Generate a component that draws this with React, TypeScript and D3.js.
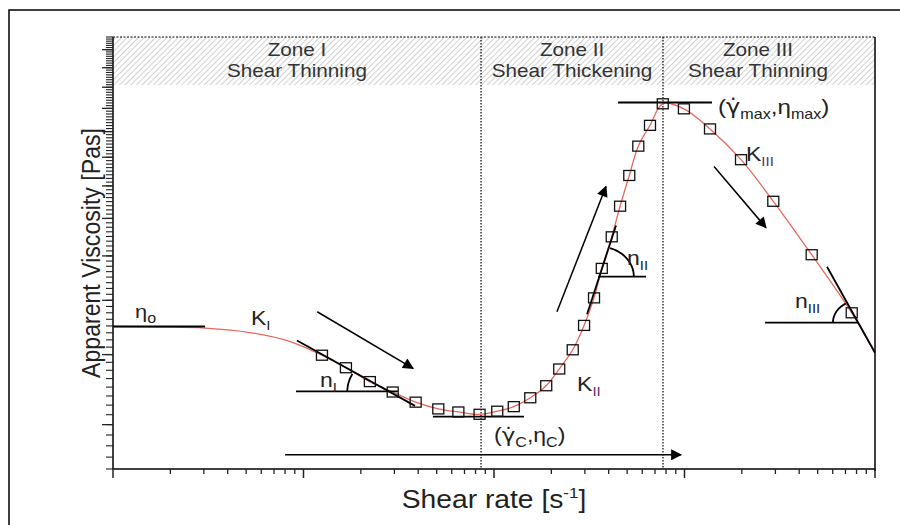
import React from 'react';
import * as d3 from 'd3';

const W = 900, H = 525;

// measured points: shear rate [1/s], apparent viscosity [Pa s]
const shearRate = [12.5, 16.7, 22.3, 29.4, 38.8, 51, 65, 84, 104, 127, 155, 188, 220, 259, 297, 335, 368, 415, 459, 513, 572, 659, 769, 993, 1361, 1980, 2925, 4653, 7548];
const viscosity = [3.99, 3.79, 3.58, 3.43, 3.29, 3.2, 3.16, 3.13, 3.17, 3.23, 3.35, 3.52, 3.77, 4.08, 4.51, 5.05, 5.7, 6.49, 7.36, 8.35, 9.42, 10.26, 11.21, 10.98, 10.11, 8.91, 7.51, 6.03, 4.75];

// model curve ends (plateau on the left, tail on the right)
const fitLeadRate = [1, 1.77, 3.04, 5.23, 8.5];
const fitLeadVisc = [4.49, 4.48, 4.46, 4.38, 4.22];
const fitTailRate = [10000];
const fitTailVisc = [4.03];

// zones
const zoneBounds = [85.5, 771];
const zoneCenters = [9.24, 257, 2431];
const zoneTitles = ['Zone I', 'Zone II', 'Zone III'];
const zoneKinds = ['Shear Thinning', 'Shear Thickening', 'Shear Thinning'];

// ticks
const yMajor = [3, 4, 5, 6, 7, 8, 9, 10, 11, 12, 13, 14];
const yMinor = d3.range(2.5, 14.76, 0.125);
const xMajor = [1, 10, 100, 1000, 10000];
const xMinor = [1, 10, 100, 1000].flatMap(d => [2, 3, 4, 5, 6, 7, 8, 9].map(k => k * d));

// annotation geometry, data units [rate, viscosity]
const eta0Line = [[1, 4.49], [3.04, 4.49]];
const tangentI = [[9.24, 4.24], [38.5, 3.24]];
const levelI = [[9.13, 3.44], [31.3, 3.44]];
const arrowI = [[11.8, 4.77], [37.6, 3.78]];
const minLine = [[47.8, 3.1], [143.7, 3.1]];
const arrowII = [[214, 4.77], [387, 7.98]];
const tangentII = [[308, 4.72], [437, 6.8]];
const levelII = [[352, 5.51], [628, 5.51]];
const peakLine = [[448, 11.27], [1394, 11.27]];
const arrowIII = [[1429, 8.66], [2678, 6.74]];
const tangentIII = [[5598, 5.74], [10000, 4.03]];
const levelIII = [[2647, 4.56], [8142, 4.56]];
const rateArrow = [[8, 2.65], [959, 2.65]];

const x = d3.scaleLog().domain([1, 10000]).range([113, 875]);
const y = d3.scaleLog().domain([2.5, 14.75]).range([469, 37]);

const FONT = 'Liberation Sans, Arial, sans-serif';
const SX = 1.15;

function Txt({ at, size, children, anchor = 'start', fill = '#222', dx = 0, dy = 0 }: any) {
  const px = x(at[0]) + dx, py = y(at[1]) + dy;
  return (
    <text transform={`translate(${px},${py}) scale(${SX},1)`} fontSize={size} fontFamily={FONT}
      textAnchor={anchor} fill={fill}>{children}</text>
  );
}

function Seg({ pts, arrow = false, w = 1.8 }: any) {
  return (
    <line x1={x(pts[0][0])} y1={y(pts[0][1])} x2={x(pts[1][0])} y2={y(pts[1][1])}
      stroke="#000" strokeWidth={w} markerEnd={arrow ? 'url(#head)' : undefined} />
  );
}

function angleArc(tangent: number[][], level: number[][], r: number) {
  const t0 = [x(tangent[0][0]), y(tangent[0][1])];
  const t1 = [x(tangent[1][0]), y(tangent[1][1])];
  const h = y(level[0][1]);
  const t = (h - t0[1]) / (t1[1] - t0[1]);
  const cx = t0[0] + t * (t1[0] - t0[0]);
  const up = t0[1] < t1[1] ? t0 : t1;
  const lx0 = x(level[0][0]), lx1 = x(level[1][0]);
  const far = Math.abs(lx0 - cx) > Math.abs(lx1 - cx) ? lx0 : lx1;
  const a0 = far < cx ? Math.PI : 0;
  const a1 = Math.atan2(up[1] - h, up[0] - cx);
  let d = a1 - a0;
  while (d > Math.PI) d -= 2 * Math.PI;
  while (d < -Math.PI) d += 2 * Math.PI;
  const pts = d3.range(0, 1.0001, 0.05).map(s => {
    const a = a0 + s * d;
    return [cx + r * SX * Math.cos(a), h + r * Math.sin(a)] as [number, number];
  });
  return d3.line()(pts) || '';
}

export default function App() {
  const points = shearRate.map((r, i) => [r, viscosity[i]]);
  const fit = [
    ...fitLeadRate.map((r, i) => [r, fitLeadVisc[i]]),
    ...points,
    ...fitTailRate.map((r, i) => [r, fitTailVisc[i]]),
  ];
  const curve = d3.line<number[]>()
    .x(d => x(d[0]))
    .y(d => y(d[1]))
    .curve(d3.curveCatmullRom.alpha(0.5))(fit) || '';

  const [x0, x1] = x.range();
  const [yb, yt] = y.range();
  const bandBottom = 85;
  const sub = (s: string, size = 13) => <tspan dy={5} fontSize={size}>{s}</tspan>;
  const gdot = <tspan fontFamily="DejaVu Sans">{'\u03B3\u0307'}</tspan>;

  return (
    <svg width={W} height={H} style={{ position: 'absolute', left: 0, top: 0, background: '#fff' }}>
      <defs>
        <pattern id="hatch" width="4" height="4" patternUnits="userSpaceOnUse" patternTransform="rotate(45)">
          <line x1="0" y1="0" x2="0" y2="4" stroke="#b8b8b8" strokeWidth="1.3" />
        </pattern>
        <marker id="head" viewBox="0 0 10 10" refX="9" refY="5" markerWidth="16" markerHeight="11"
          markerUnits="userSpaceOnUse" orient="auto">
          <path d="M0,0 L10,5 L0,10 z" fill="#000" />
        </marker>
      </defs>

      <rect x={9} y={10} width={W} height={H} fill="none" stroke="#000" strokeWidth={1.5} />

      {/* hatched zone band */}
      <rect x={x0} y={yt} width={x1 - x0} height={bandBottom - yt} fill="url(#hatch)" />
      <line x1={x0} x2={x1} y1={yt} y2={yt} stroke="#000" strokeWidth={1.2} strokeDasharray="2,1.5" />

      {zoneTitles.map((z, i) => (
        <text key={z} transform={`translate(${x(zoneCenters[i])},${56}) scale(${SX},1)`} fontSize={18}
          fontFamily={FONT} textAnchor="middle" fill="#333">{z}</text>
      ))}
      {zoneKinds.map((z, i) => (
        <text key={i} transform={`translate(${x(zoneCenters[i])},${77}) scale(${SX},1)`} fontSize={18}
          fontFamily={FONT} textAnchor="middle" fill="#333">{z}</text>
      ))}

      {zoneBounds.map(b => (
        <line key={b} x1={x(b)} x2={x(b)} y1={yt} y2={yb} stroke="#000" strokeWidth={1.2} strokeDasharray="1.5,1.5" />
      ))}

      {/* axes */}
      <line x1={x0} x2={x0} y1={yt} y2={yb} stroke="#000" strokeWidth={1.5} />
      <line x1={x1} x2={x1} y1={yt} y2={yb + 2} stroke="#000" strokeWidth={1.5} />
      <line x1={x0} x2={x1} y1={yb} y2={yb} stroke="#000" strokeWidth={1.5} />
      {yMinor.map(v => (
        <line key={'ym' + v} x1={x0 - 7} x2={x0} y1={y(v)} y2={y(v)} stroke="#222" strokeWidth={1.1} />
      ))}
      {yMajor.map(v => (
        <line key={'yM' + v} x1={x0 - 11} x2={x0} y1={y(v)} y2={y(v)} stroke="#222" strokeWidth={1.3} />
      ))}
      {xMinor.map(v => (
        <line key={'xm' + v} x1={x(v)} x2={x(v)} y1={yb} y2={yb + 5} stroke="#222" strokeWidth={1.3} />
      ))}
      {xMajor.map(v => (
        <line key={'xM' + v} x1={x(v)} x2={x(v)} y1={yb} y2={yb + 9} stroke="#222" strokeWidth={1.5} />
      ))}

      <text transform={`translate(${x0 - 13},${253}) rotate(-90) scale(1.05,${SX})`} fontSize={22}
        fontFamily={FONT} textAnchor="middle" fill="#222">Apparent Viscosity [Pas]</text>
      <text transform={`translate(${(x0 + x1) / 2},${508}) scale(1.13,1)`} fontSize={25} fontFamily={FONT}
        textAnchor="middle" fill="#222">Shear rate [s<tspan dy={-10} fontSize={15}>-1</tspan><tspan dy={10}>]</tspan></text>

      {/* fitted model */}
      <path d={curve} fill="none" stroke="#e8675c" strokeWidth={1.3} />

      {/* annotations */}
      <Seg pts={eta0Line} w={2} />
      <Seg pts={tangentI} />
      <Seg pts={levelI} />
      <Seg pts={arrowI} arrow w={1.5} />
      <Seg pts={minLine} />
      <Seg pts={arrowII} arrow w={1.5} />
      <Seg pts={tangentII} />
      <Seg pts={levelII} />
      <Seg pts={peakLine} />
      <Seg pts={arrowIII} arrow w={1.5} />
      <Seg pts={tangentIII} />
      <Seg pts={levelIII} />
      <Seg pts={rateArrow} arrow w={1.5} />
      <path d={angleArc(tangentI, levelI, 36)} fill="none" stroke="#000" strokeWidth={1.8} />
      <path d={angleArc(tangentII, levelII, 30)} fill="none" stroke="#000" strokeWidth={1.8} />
      <path d={angleArc(tangentIII, levelIII, 22)} fill="none" stroke="#000" strokeWidth={1.8} />

      {/* measured points */}
      {points.map((p, i) => (
        <rect key={i} x={x(p[0]) - 5.5} y={y(p[1]) - 5} width={11} height={10} fill="none" stroke="#111" strokeWidth={1.3} />
      ))}

      {/* labels */}
      <Txt at={[1.305, 4.64]} size={19}>η{sub('o', 14)}</Txt>
      <Txt at={[5.3, 4.52]} size={20}>K{sub('I', 13)}</Txt>
      <Txt at={[12.2, 3.5]} size={20}>n{sub('I', 13)}</Txt>
      <Txt at={[100, 2.79]} size={20}>({gdot}{sub('C', 14)}<tspan dy={-5}>,η</tspan>{sub('C', 14)}<tspan dy={-5}>)</tspan></Txt>
      <Txt at={[273, 3.44]} size={20}>K<tspan dy={5} fontSize={13} fill="#5b2c6f">II</tspan></Txt>
      <Txt at={[499, 5.77]} size={20}>n{sub('II', 13)}</Txt>
      <Txt at={[1500, 10.73]} size={21}>({gdot}{sub('max', 14)}<tspan dy={-5}>,η</tspan>{sub('max', 14)}<tspan dy={-5}>)</tspan></Txt>
      <Txt at={[2103, 8.88]} size={20}>K<tspan dy={5} fontSize={13} fill="#5b2c6f">III</tspan></Txt>
      <Txt at={[3802, 4.85]} size={20}>n{sub('III', 13)}</Txt>
    </svg>
  );
}
